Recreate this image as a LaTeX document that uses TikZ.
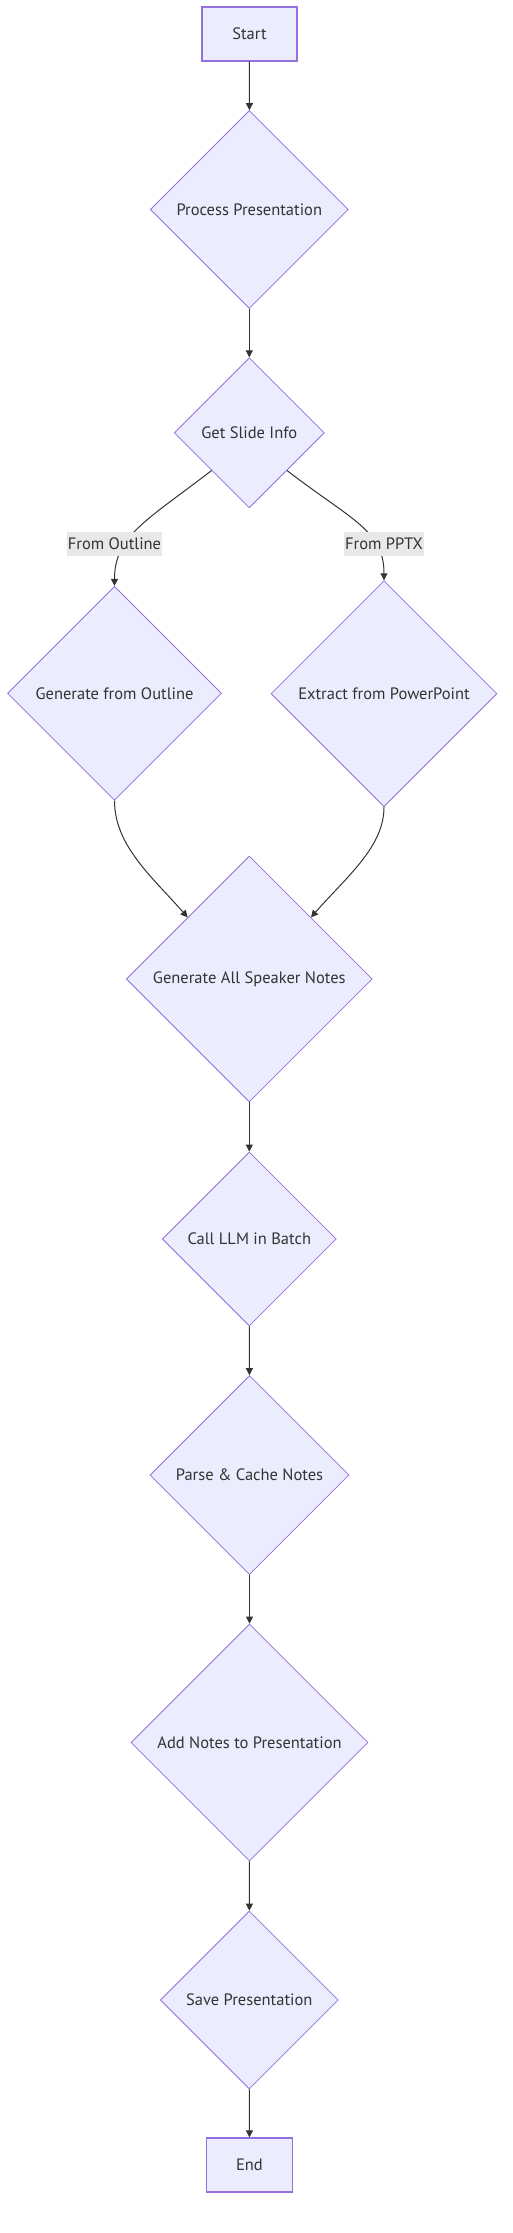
\documentclass[tikz,border=0pt]{standalone}
\usepackage{fontspec}
\setmainfont{PT Sans}
\usetikzlibrary{shapes.geometric,arrows.meta}

\definecolor{nodefill}{HTML}{ECECFF}
\definecolor{nodeline}{HTML}{9370DB}
\definecolor{inkgray}{HTML}{333333}
\definecolor{labelbg}{HTML}{E8E8E8}

\tikzset{
  every node/.style={text=inkgray, font=\fontsize{16.5}{19}\selectfont},
  terminal/.style={draw=nodeline, fill=nodefill, line width=1.2pt,
    minimum width=#1, minimum height=54pt, inner sep=0pt},
  decision/.style={diamond, aspect=1, draw=nodeline, fill=nodefill,
    line width=0.8pt, inner sep=0pt, minimum size=#1},
  flow/.style={draw=inkgray, line width=1pt, -{Triangle[length=7pt,width=7pt]}},
  edgelabel/.style={fill=labelbg, inner sep=1pt, minimum height=24pt}
}

\begin{document}
\begin{tikzpicture}[x=1pt, y=-1pt]
\useasboundingbox (0,0) rectangle (513,2233);

% Nodes
\node[terminal=95pt] (start) at (249.5,34) {Start};
\node[decision=198pt] (proc) at (249.3,209.5) {Process Presentation};
\node[decision=150pt] (sinfo) at (249.3,432.8) {Get Slide Info};
\node[decision=214pt] (outline) at (114.5,693.3) {Generate from Outline};
\node[decision=226pt] (pptx) at (384,693.7) {Extract from PowerPoint};
\node[decision=246pt] (gen) at (249.3,979) {Generate All Speaker Notes};
\node[decision=174pt] (llm) at (249.3,1239) {Call LLM in Batch};
\node[decision=199pt] (parse) at (249.5,1475) {Parse \& Cache Notes};
\node[decision=237pt] (addn) at (249.5,1742.5) {Add Notes to Presentation};
\node[decision=178pt] (save) at (249.3,2000) {Save Presentation};
\node[terminal=86pt] (finish) at (249.5,2165) {End};

% Straight edges down the middle
\draw[flow] (start) -- (proc);
\draw[flow] (proc) -- (sinfo);
\draw[flow] (gen) -- (llm);
\draw[flow] (llm) -- (parse);
\draw[flow] (parse) -- (addn);
\draw[flow] (addn) -- (save);
\draw[flow] (save) -- (finish);

% Branches out of Get Slide Info
\draw[flow] (sinfo.south west) .. controls +(-65,50) and +(0,-50) .. (outline.north);
\draw[flow] (sinfo.south east) .. controls +(65,50) and +(0,-50) .. (pptx.north);

% Branches joining again
\draw[flow] (outline.south) .. controls +(0,45) and +(-35,-40) .. (gen.north west);
\draw[flow] (pptx.south) .. controls +(0,40) and +(35,-40) .. (gen.north east);

% Edge labels
\node[edgelabel] (lbloutline) at (114.5,544) {From Outline};
\node[edgelabel] (lblpptx) at (384,544) {From PPTX};
\end{tikzpicture}
\end{document}
